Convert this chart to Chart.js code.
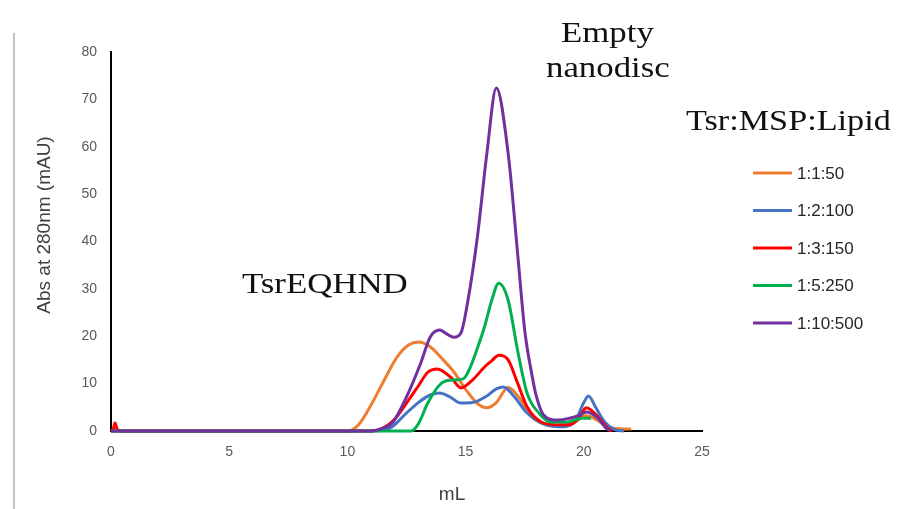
<!DOCTYPE html>
<html>
<head>
<meta charset="utf-8">
<script src="https://cdn.jsdelivr.net/npm/chart.js@4/dist/chart.umd.min.js"></script>
<style>
  html, body { margin: 0; padding: 0; background: #fff; }
  #wrap { position: relative; width: 908px; height: 509px; overflow: hidden; }
  canvas { position: absolute; left: 0; top: 0; }
  .ann { position: absolute; font-family: "Liberation Serif", serif; font-size: 30px; color: #111; white-space: nowrap; transform-origin: left top; transform: scaleX(1.16); line-height: 1; }
  #sep { position: absolute; left: 13px; top: 33px; width: 2px; height: 476px; background: #c4c4c4; }
</style>
</head>
<body>
<div id="wrap">
  <div id="sep"></div>
  <canvas id="c" width="908" height="509"></canvas>
  <div class="ann" style="left:242px; top:268px;">TsrEQHND</div>
  <div class="ann" style="left:561px; top:17px;">Empty</div>
  <div class="ann" style="left:546px; top:52px;">nanodisc</div>
  <div class="ann" style="left:686px; top:105px; transform: scaleX(1.14);">Tsr:MSP:Lipid</div>
</div>
<script>
// ---- data (mL, mAU) ----
const seriesLabels = ["1:1:50", "1:2:100", "1:3:150", "1:5:250", "1:10:500"];
const seriesColors = ["#ED7D31", "#4472C4", "#FF0000", "#00B050", "#7030A0"];

const x1 = [0, 10.0, 10.5, 11.0, 11.5, 12.1, 12.6, 13.0, 13.5, 14.0, 14.5, 15.0, 15.5, 15.9, 16.3, 16.8, 17.3, 17.8, 18.4, 19.0, 19.6, 20.1, 20.6, 21.0, 21.5, 22.0];
const y1 = [0, 0, 1.5, 5.5, 10.2, 15.6, 18.2, 18.8, 17.8, 15.3, 12.5, 8.8, 5.8, 4.9, 6.0, 9.2, 6.8, 3.0, 1.3, 1.0, 1.8, 3.2, 2.2, 0.8, 0.5, 0.4];

const x2 = [0, 11.0, 11.8, 12.5, 13.0, 13.5, 13.9, 14.3, 14.8, 15.3, 15.9, 16.3, 16.6, 17.0, 17.6, 18.2, 19.0, 19.6, 20.0, 20.2, 20.5, 20.9, 21.3, 21.7];
const y2 = [0, 0, 0.6, 3.8, 6.0, 7.6, 8.0, 7.3, 5.9, 6.0, 7.4, 8.9, 9.3, 7.6, 3.8, 1.7, 0.9, 1.8, 6.0, 7.4, 5.0, 1.8, 0.3, 0];

const x3 = [0, 0.1, 0.17, 0.25, 0.4, 11.0, 11.5, 12.0, 12.5, 13.0, 13.4, 13.8, 14.4, 14.8, 15.3, 15.8, 16.1, 16.4, 16.8, 17.2, 17.6, 18.2, 18.9, 19.4, 19.8, 20.1, 20.6, 21.0, 21.2];
const y3 = [0, 0.5, 1.7, 0.5, 0, 0, 0.6, 2.5, 5.9, 9.5, 12.4, 13.1, 11.2, 9.1, 10.8, 13.5, 14.8, 16.0, 15.0, 10.1, 5.1, 1.9, 1.3, 1.3, 2.8, 4.9, 3.0, 0.6, 0];

const x4 = [0, 12.7, 13.0, 13.4, 13.9, 14.3, 14.9, 15.2, 15.5, 15.8, 16.1, 16.4, 16.8, 17.2, 17.6, 18.1, 18.6, 19.3, 19.9, 20.3];
const y4 = [0, 0, 1.5, 5.9, 9.7, 10.7, 11.0, 13.5, 17.5, 22.0, 27.5, 31.2, 27.6, 17.0, 8.0, 3.8, 1.9, 1.9, 2.7, 2.7];

const x5 = [0, 11.0, 11.5, 11.9, 12.5, 13.1, 13.5, 13.9, 14.2, 14.5, 14.8, 15.1, 15.5, 15.9, 16.3, 16.8, 17.2, 17.5, 17.8, 18.0, 18.3, 18.9, 19.4, 19.8, 20.1, 20.6, 20.9, 21.1];
const y5 = [0, 0, 0.6, 1.7, 7.2, 14.3, 19.8, 21.3, 20.5, 19.8, 20.7, 27.6, 41.0, 58.6, 72.4, 58.6, 37.5, 21.3, 12.0, 7.2, 3.4, 2.3, 2.7, 3.3, 4.0, 2.7, 0.8, 0];

const xTicks = [0, 5, 10, 15, 20, 25];
const yTicks = [0, 10, 20, 30, 40, 50, 60, 70, 80];
const xTitle = "mL";
const yTitle = "Abs at 280nm (mAU)";

const xs = [x1, x2, x3, x4, x5];
const ys = [y1, y2, y3, y4, y5];

const datasets = seriesLabels.map((lab, i) => ({
  label: lab,
  data: xs[i].map((x, j) => ({ x: x, y: ys[i][j] })),
  borderColor: seriesColors[i],
  backgroundColor: seriesColors[i],
  borderWidth: 3,
  pointRadius: 0,
  cubicInterpolationMode: 'monotone',
  fill: false,
  clip: 4,
  order: seriesLabels.length - i
}));

const extras = {
  id: 'extras',
  afterDraw(chart) {
    const ctx = chart.ctx;
    ctx.save();
    // legend
    ctx.font = '17px "Liberation Sans", Arial, sans-serif';
    ctx.textBaseline = 'middle';
    ctx.textAlign = 'left';
    chart.data.datasets.forEach((ds, i) => {
      const y = 173 + i * 37.5;
      ctx.strokeStyle = ds.borderColor;
      ctx.lineWidth = 3;
      ctx.beginPath();
      ctx.moveTo(753, y);
      ctx.lineTo(792, y);
      ctx.stroke();
      ctx.fillStyle = '#262626';
      ctx.fillText(ds.label, 797, y + 1);
    });
    // axis titles
    ctx.fillStyle = '#404040';
    ctx.font = '19px "Liberation Sans", Arial, sans-serif';
    ctx.textAlign = 'center';
    ctx.textBaseline = 'middle';
    ctx.fillText(xTitle, 452, 495);
    ctx.translate(45, 225);
    ctx.rotate(-Math.PI / 2);
    ctx.fillText(yTitle, 0, 0);
    ctx.restore();
  }
};

new Chart(document.getElementById('c'), {
  type: 'line',
  data: { datasets: datasets },
  plugins: [extras],
  options: {
    responsive: false,
    animation: false,
    devicePixelRatio: 1,
    layout: { padding: { left: 0, right: 206, top: 52, bottom: 0 } },
    plugins: { legend: { display: false }, tooltip: { enabled: false } },
    scales: {
      x: {
        type: 'linear', min: 0, max: 25,
        afterFit(s) { s.height = 78; },
        afterBuildTicks(s) { s.ticks = xTicks.map(v => ({ value: v })); },
        grid: { display: false, drawTicks: false },
        border: { display: true, color: '#000', width: 2 },
        ticks: { color: '#595959', font: { family: '"Liberation Sans", Arial, sans-serif', size: 14 }, padding: 13, maxRotation: 0 }
      },
      y: {
        type: 'linear', min: 0, max: 80,
        afterFit(s) { s.width = 111; },
        afterBuildTicks(s) { s.ticks = yTicks.map(v => ({ value: v })); },
        grid: { display: false, drawTicks: false },
        border: { display: true, color: '#000', width: 2 },
        ticks: { color: '#595959', font: { family: '"Liberation Sans", Arial, sans-serif', size: 14 }, padding: 14 }
      }
    }
  }
});
</script>
</body>
</html>
